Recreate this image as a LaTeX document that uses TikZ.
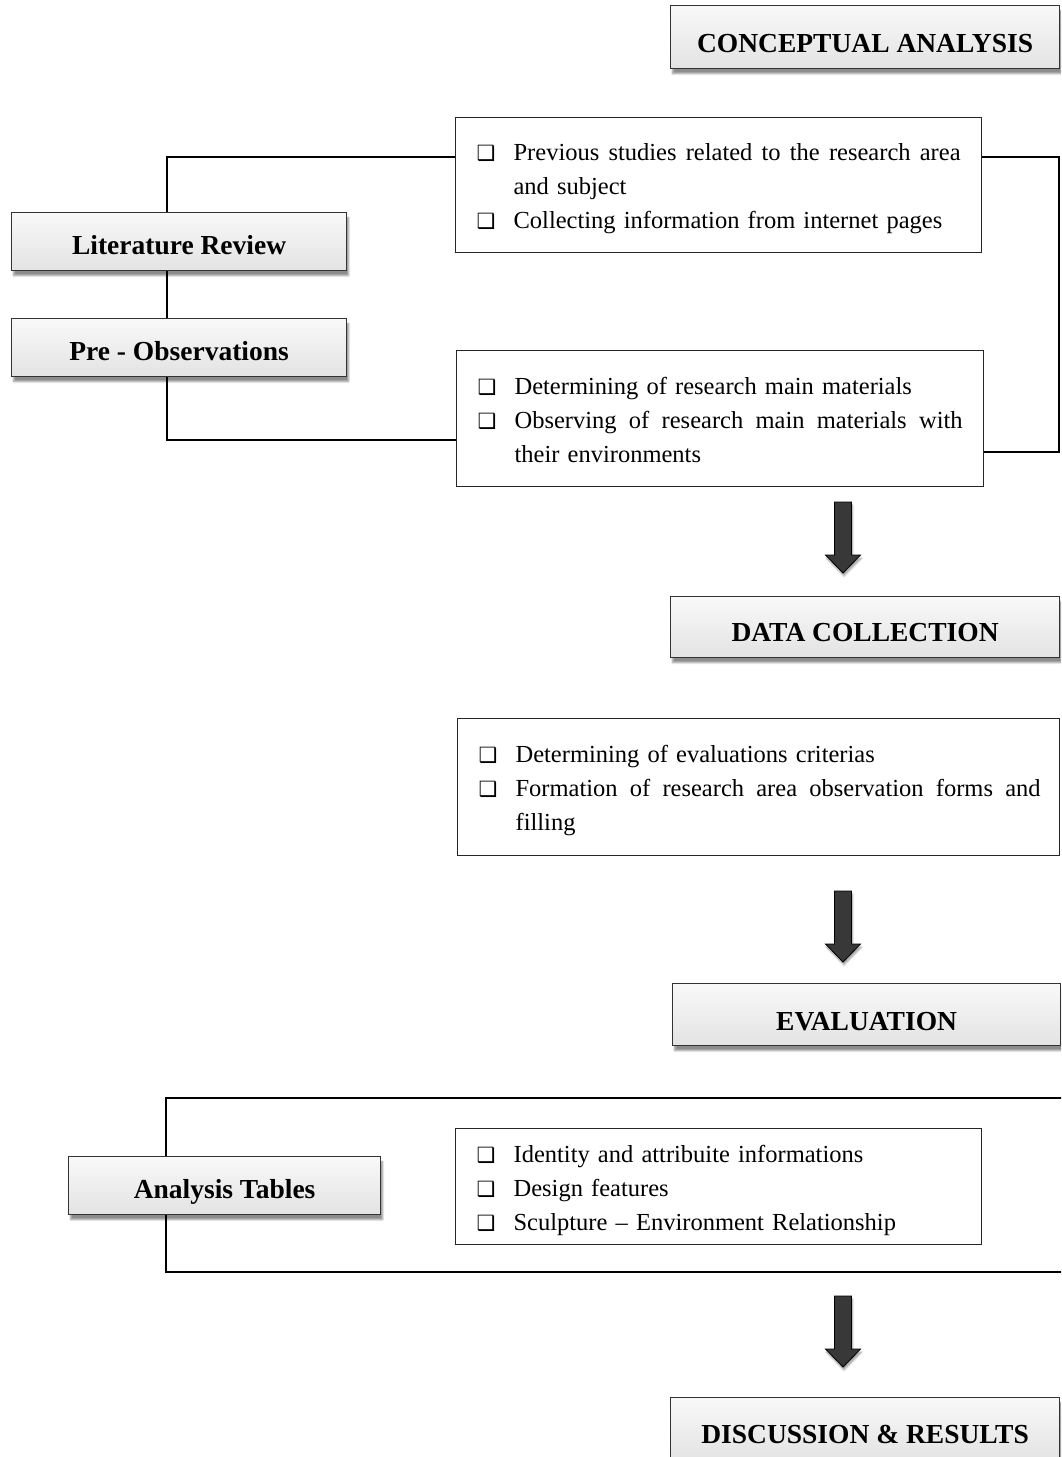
\documentclass[tikz,border=0pt]{standalone}
\usepackage{fontspec}
\setmainfont{Liberation Serif}
\newfontfamily\dvsfont{DejaVu Sans}
\usetikzlibrary{shadows.blur}

\newcommand\bul{\makebox[37pt][l]{\hspace*{0pt}{\dvsfont\fontsize{21}{21}\selectfont ❑}}}
\newcommand\cont{\hspace*{37pt}}

\tikzset{
  hdr/.style={draw=black!80, line width=1.2pt, top color=gray!5, bottom color=gray!22,
    font=\fontsize{27.5}{30}\selectfont\bfseries, inner sep=0pt, anchor=north west, text depth=0pt,
    blur shadow={shadow xshift=2pt, shadow yshift=-5pt, shadow blur steps=6, shadow opacity=45}},
  txtbox/.style={draw=black!85, line width=1.2pt, fill=white, inner xsep=21pt, inner ysep=0pt,
    align=left, font=\fontsize{24.5}{34}\selectfont, anchor=north west, text height=17pt, text depth=66pt},
  conn/.style={line width=2.4pt, black},
  blk/.style={fill=black!78, draw=black, line width=0.8pt,
    blur shadow={shadow xshift=1pt, shadow yshift=-3pt, shadow blur steps=5, shadow opacity=40}},
  downarrow/.pic={\path[blk] (-8.5,0) -- (8.5,0) -- (8.5,53) -- (17.5,53) -- (0,71) -- (-17.5,53) -- (-8.5,53) -- cycle;}
}

\begin{document}
\begin{tikzpicture}[x=1pt,y=-1pt]
\useasboundingbox (0,0) rectangle (1061,1457);
\clip (0,0) rectangle (1061,1457);

% header boxes
\node[hdr, minimum width=389pt, minimum height=63pt, text height=30.4pt] (ca) at (670,5) {CONCEPTUAL ANALYSIS};
\node[hdr, minimum width=335pt, minimum height=58pt, text height=26.6pt] (lit) at (11,212) {Literature Review};
\node[hdr, minimum width=335pt, minimum height=58pt, text height=25.6pt] (pre) at (11,318) {Pre - Observations};
\node[hdr, minimum width=389pt, minimum height=61pt, text height=28.4pt] (dc) at (670,596) {DATA COLLECTION};
\node[hdr, minimum width=388pt, minimum height=62pt, text height=32.4pt] (ev) at (672,983) {EVALUATION};
\node[hdr, minimum width=312pt, minimum height=58pt, text height=26.6pt] (at) at (68,1156) {Analysis Tables};
\node[hdr, minimum width=389pt, minimum height=63pt, text height=29.4pt] (dr) at (670,1397) {DISCUSSION \& RESULTS};

% text boxes
\node[txtbox, text width=484pt, minimum height=135pt] (b1) at (455,117) {%
\bul\hbox to 447pt{Previous\hfill studies\hfill related\hfill to\hfill the\hfill research\hfill area}\\
\cont and subject\\
\bul Collecting information from internet pages};

\node[txtbox, text width=485pt, minimum height=136pt] (b2) at (456,350) {%
\bul Determining of research main materials\\
\bul\hbox to 448pt{Observing\hfill of\hfill research\hfill main\hfill materials\hfill with}\\
\cont their environments};

\node[txtbox, text width=560pt, minimum height=137pt] (b3) at (457,718) {%
\bul Determining of evaluations criterias\\
\bul\hbox to 525pt{Formation\hfill of\hfill research\hfill area\hfill observation\hfill forms\hfill and}\\
\cont filling};

\node[txtbox, text width=484pt, minimum height=116pt] (b4) at (455,1128) {%
\bul Identity and attribuite informations\\
\bul Design features\\
\bul Sculpture -- Environment Relationship};

% connector corners
\coordinate (j1) at (167,157);
\coordinate (j2) at (167,440);
\coordinate (r1) at (1059,157);
\coordinate (r2) at (1059,452);
\coordinate (f1) at (166,1098);
\coordinate (f2) at (166,1272);
\coordinate (fr1) at (1070,1098);
\coordinate (fr2) at (1070,1272);

\draw[conn] (lit.north -| j1) -- (j1) -- (b1.west |- j1);
\draw[conn] (lit.south -| j1) -- (pre.north -| j1);
\draw[conn] (pre.south -| j2) -- (j2) -- (b2.west |- j2);
\draw[conn] (b1.east |- r1) -- (r1) -- (r2) -- (b2.east |- r2);
\draw[conn] (at.north -| f1) -- (f1) -- (fr1);
\draw[conn] (at.south -| f2) -- (f2) -- (fr2);

% block arrows
\pic at (843,502) {downarrow};
\pic at (843,891) {downarrow};
\pic at (843,1296) {downarrow};
\end{tikzpicture}
\end{document}
